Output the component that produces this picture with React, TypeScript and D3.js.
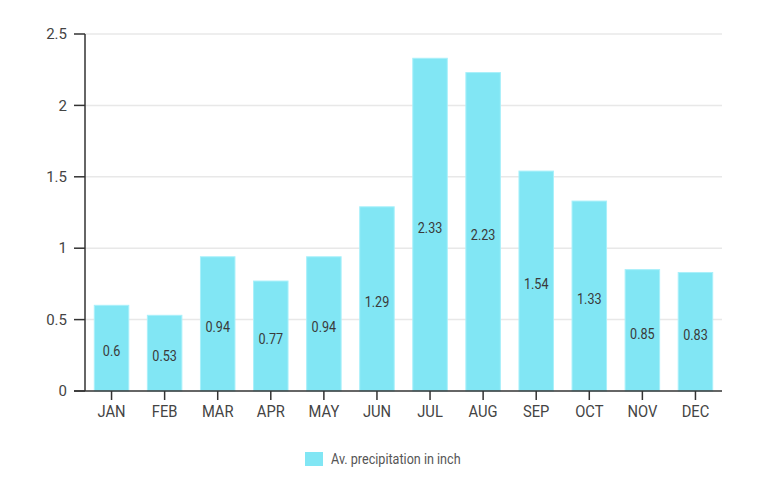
import React from 'react';
import * as d3 from 'd3';

const months = ['JAN', 'FEB', 'MAR', 'APR', 'MAY', 'JUN', 'JUL', 'AUG', 'SEP', 'OCT', 'NOV', 'DEC'];
const precipitation = [0.6, 0.53, 0.94, 0.77, 0.94, 1.29, 2.33, 2.23, 1.54, 1.33, 0.85, 0.83];
const yTicks = [0, 0.5, 1, 1.5, 2, 2.5];
const seriesName = 'Av. precipitation in inch';

const width = 768;
const height = 480;
const margin = { top: 34, right: 46, bottom: 89, left: 85 };
const font = 'Roboto, sans-serif';
// labels in the reference are a narrower cut of the same face
const squeeze = 0.84;

export default function App() {
  const x = d3.scaleBand()
    .domain(months)
    .range([margin.left, width - margin.right])
    .paddingInner(0.35)
    .paddingOuter(0.175);

  const y = d3.scaleLinear()
    .domain([0, 2.5])
    .range([height - margin.bottom, margin.top]);

  const fmt = (v: number) => String(v);

  return (
    <svg width={width} height={height} style={{ position: 'absolute', left: 0, top: 0, background: '#fff' }} fontFamily={font}>
      {/* grid */}
      {yTicks.filter(t => t > 0).map(t => (
        <line key={t} x1={margin.left} x2={width - margin.right} y1={y(t)} y2={y(t)} stroke="#e8e8e8" strokeWidth={1.5} />
      ))}

      {/* bars */}
      {precipitation.map((v, i) => (
        <rect key={months[i]} x={x(months[i])!} y={y(v)} width={x.bandwidth()} height={y(0) - y(v)}
          fill="#81e6f4" stroke="#a9f0fa" strokeWidth={1} />
      ))}

      {/* value labels */}
      {precipitation.map((v, i) => (
        <text key={'l' + months[i]}
          transform={`translate(${x(months[i])! + x.bandwidth() / 2},${(y(v) + y(0)) / 2 + 3}) scale(${squeeze},1)`}
          dy="0.35em" textAnchor="middle" fontSize={15} fill="#3a3a3a">{fmt(v)}</text>
      ))}

      {/* y axis */}
      <line x1={margin.left} x2={margin.left} y1={margin.top} y2={y(0)} stroke="#333" strokeWidth={1.5} />
      {yTicks.map(t => (
        <g key={'y' + t}>
          <line x1={margin.left - 11} x2={margin.left} y1={y(t)} y2={y(t)} stroke="#333" strokeWidth={1.5} />
          <text x={margin.left - 18} y={y(t)} dy="0.35em" textAnchor="end" fontSize={15} fill="#444">{fmt(t)}</text>
        </g>
      ))}

      {/* x axis */}
      <line x1={margin.left - 11} x2={width - margin.right} y1={y(0)} y2={y(0)} stroke="#333" strokeWidth={1.5} />
      {months.map(m => (
        <g key={'x' + m}>
          <line x1={x(m)! + x.bandwidth() / 2} x2={x(m)! + x.bandwidth() / 2} y1={y(0)} y2={y(0) + 9} stroke="#333" strokeWidth={1.5} />
          <text transform={`translate(${x(m)! + x.bandwidth() / 2},${y(0) + 20}) scale(0.92,1)`} dy="0.35em"
            textAnchor="middle" fontSize={16} fill="#444">{m}</text>
        </g>
      ))}

      {/* legend */}
      <rect x={305} y={452} width={18} height={14} fill="#81e6f4" />
      <text transform={`translate(331,459) scale(${squeeze},1)`} dy="0.35em" fontSize={15} fill="#555">{seriesName}</text>
    </svg>
  );
}
